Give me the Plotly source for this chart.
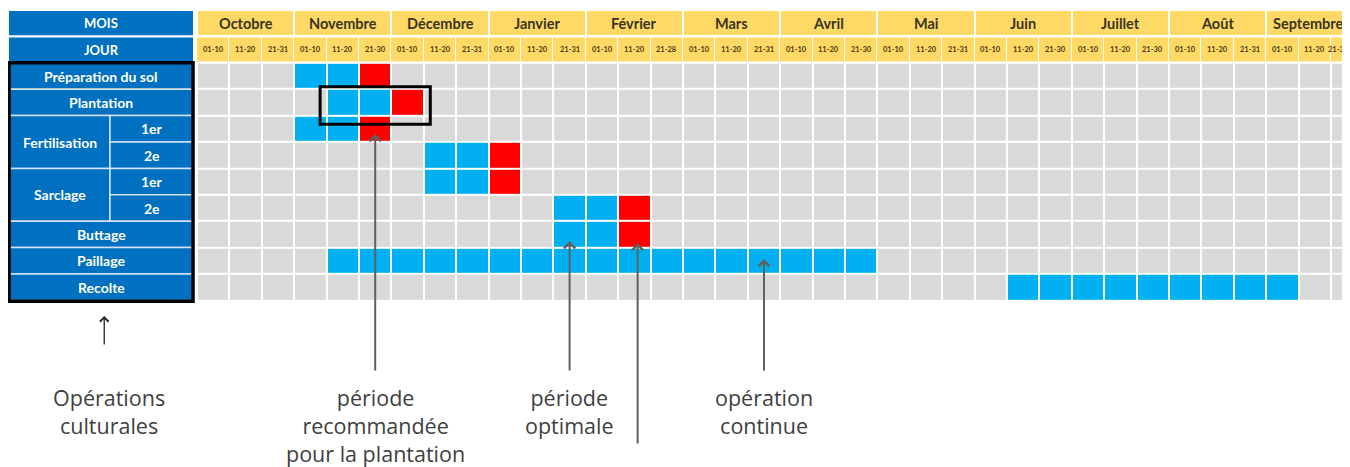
import plotly.graph_objects as go

# ---------------- data ----------------
months = ["Octobre", "Novembre", "Décembre", "Janvier", "Février", "Mars",
          "Avril", "Mai", "Juin", "Juillet", "Août", "Septembre"]
decades = ["01-10", "11-20", "21-31", "01-10", "11-20", "21-30",
           "01-10", "11-20", "21-31", "01-10", "11-20", "21-31",
           "01-10", "11-20", "21-28", "01-10", "11-20", "21-31",
           "01-10", "11-20", "21-30", "01-10", "11-20", "21-31",
           "01-10", "11-20", "21-30", "01-10", "11-20", "21-30",
           "01-10", "11-20", "21-31", "01-10", "11-20", "21-30"]

op_group = ["Préparation du sol", "Plantation", "Fertilisation", "Fertilisation",
            "Sarclage", "Sarclage", "Buttage", "Paillage", "Recolte"]
op_sub = ["", "", "1er", "2e", "1er", "2e", "", "", ""]

# blue span (decade index, inclusive) and red decade per operation
blue_start = [3, 4, 3, 7, 7, 11, 11, 4, 25]
blue_end = [4, 5, 4, 8, 8, 12, 12, 20, 33]
red_col = [5, 6, 5, 9, 9, 13, 13, None, None]

notes = ["Opérations<br>culturales",
         "période<br>recommandée<br>pour la plantation",
         "période<br>optimale",
         "opération<br>continue"]

# ---------------- layout helpers (page pixel geometry) ----------------
PAGE_W, PAGE_H = 1350, 467
BODY = 8                      # default page margin around the plot div
W, H = PAGE_W - BODY, PAGE_H - BODY
X0_PX, COL_PX = 197, 32.4
Y0_PX, ROW_PX = 10, 26.4


def px2x(p):
    return (p - X0_PX) / COL_PX


def py2y(p):
    return (p - Y0_PX) / ROW_PX - 2


ncol = len(decades)
nrow = len(op_group)

z = []
for r in range(nrow):
    row = []
    for c in range(ncol):
        v = 0
        if blue_start[r] <= c <= blue_end[r]:
            v = 1
        if red_col[r] is not None and c == red_col[r]:
            v = 2
        row.append(v)
    z.append(row)

GREY, BLUE, RED = "#D9D9D9", "#00B0F0", "#FF0000"
YEL = "#FFD966"
PANEL = "#0070C0"

fig = go.Figure()

# month header row
fig.add_trace(go.Heatmap(z=[[1] * len(months)], x0=1.5, dx=3, y0=-1.5, dy=1,
                         colorscale=[[0, YEL], [1, YEL]], showscale=False,
                         xgap=2, ygap=2, hoverinfo="skip"))
# decade header row
fig.add_trace(go.Heatmap(z=[[1] * ncol], x0=0.5, dx=1, y0=-0.5, dy=1,
                         colorscale=[[0, YEL], [1, YEL]], showscale=False,
                         xgap=1, ygap=2, hoverinfo="skip"))
# main grid
fig.add_trace(go.Heatmap(
    z=z, x0=0.5, dx=1, y0=0.5, dy=1, zmin=0, zmax=2,
    colorscale=[[0, GREY], [0.3333, GREY], [0.3333, BLUE], [0.6667, BLUE],
                [0.6667, RED], [1, RED]],
    showscale=False, xgap=2, ygap=2, hoverinfo="skip"))

shapes = []
ann = []

for m, name in enumerate(months):
    ann.append(dict(x=3 * m + 1.5, y=-1.5, text="<b>%s</b>" % name, showarrow=False,
                    xshift=-7 if m == len(months) - 1 else 0,
                    font=dict(family="Lato", size=14.5, color="#3A3420")))
for c, lab in enumerate(decades):
    ann.append(dict(x=c + 0.5, y=-0.5, text="<b>%s</b>" % lab, showarrow=False,
                    xshift=-9 if c == ncol - 1 else 0,
                    font=dict(family="Lato", size=7.5, color="#4A3A10")))

# ---------------- left panel ----------------
px_l, px_r, px_s = px2x(9), px2x(193), px2x(110)
sep = "#D6E4F5"
LFONT = dict(family="Lato", size=14, color="white")
for yy, lab in [(-2, "MOIS"), (-1, "JOUR")]:
    shapes.append(dict(type="rect", xref="x", yref="y", x0=px_l, x1=px_r,
                       y0=yy + 0.04, y1=yy + 0.96, fillcolor=PANEL, line=dict(width=0),
                       layer="above"))
    ann.append(dict(x=(px_l + px_r) / 2, y=yy + 0.5, text="<b>%s</b>" % lab,
                    showarrow=False, font=dict(family="Lato", size=13, color="white")))

r = 0
while r < nrow:
    if op_sub[r] == "":
        shapes.append(dict(type="rect", xref="x", yref="y", x0=px_l, x1=px_r,
                           y0=r, y1=r + 1, fillcolor=PANEL,
                           line=dict(width=1.5, color=sep), layer="above"))
        ann.append(dict(x=(px_l + px_r) / 2, y=r + 0.5, text="<b>%s</b>" % op_group[r],
                        showarrow=False, font=LFONT))
        r += 1
    else:
        g = op_group[r]
        r2 = r
        while r2 < nrow and op_group[r2] == g:
            r2 += 1
        shapes.append(dict(type="rect", xref="x", yref="y", x0=px_l, x1=px_s,
                           y0=r, y1=r2, fillcolor=PANEL,
                           line=dict(width=1.5, color=sep), layer="above"))
        ann.append(dict(x=(px_l + px_s) / 2, y=(r + r2) / 2, text="<b>%s</b>" % g,
                        showarrow=False, font=LFONT))
        for k in range(r, r2):
            shapes.append(dict(type="rect", xref="x", yref="y", x0=px_s, x1=px_r,
                               y0=k, y1=k + 1, fillcolor=PANEL,
                               line=dict(width=1.5, color=sep), layer="above"))
            ann.append(dict(x=(px_s + px_r) / 2, y=k + 0.5, text="<b>%s</b>" % op_sub[k],
                            showarrow=False, font=LFONT))
        r = r2

# thick black frame round the operations
shapes.append(dict(type="rect", xref="x", yref="y", x0=px_l, x1=px_r, y0=0, y1=nrow + 0.03,
                   line=dict(width=3.5, color="black"), fillcolor="rgba(0,0,0,0)",
                   layer="above"))

# black box round the plantation period
pi = op_group.index("Plantation")
shapes.append(dict(type="rect", xref="x", yref="y",
                   x0=blue_start[pi] - 0.2, x1=red_col[pi] + 1.2,
                   y0=pi - 0.09, y1=pi + 1.33,
                   line=dict(width=3, color="black"), fillcolor="rgba(0,0,0,0)",
                   layer="above"))

# ---------------- arrows + notes ----------------
acol = "#606060"
fi = op_group.index("Fertilisation")
bi = op_group.index("Buttage")
pa = op_group.index("Paillage")
TAIL = 372

arrows = [
    # (x, head_px, tail_px, colour, width)
    ((px_l + px_r) / 2 + 0.1, 316, 346, "#222222", 1.3),   # opérations culturales
    (red_col[fi] + 0.5, 134, TAIL, acol, 2),               # période recommandée
    (blue_start[bi] + 0.5, 241, TAIL, acol, 2),            # période optimale
    (red_col[bi] + 0.6, 243, 445, acol, 2),                # période rouge
    (blue_start[pa] + 13.5, 259, TAIL, acol, 2),           # opération continue
]
for ax_x, hp, tp, col, wd in arrows:
    ann.append(dict(x=ax_x, y=py2y(hp), ax=0, ay=tp - hp, showarrow=True,
                    arrowhead=4, arrowsize=1.3 if wd < 2 else 1.1, arrowwidth=wd,
                    arrowcolor=col, text=""))

note_x = [(px_l + px_r) / 2 + 0.25, red_col[fi] + 0.5,
          blue_start[bi] + 0.5, blue_start[pa] + 13.5]
for tx, t in zip(note_x, notes):
    ann.append(dict(x=tx, y=py2y(381), text=t, showarrow=False, yanchor="top",
                    xanchor="center", align="center",
                    font=dict(family="Open Sans", size=21.5, color="#404040")))

fig.update_layout(
    width=W, height=H, autosize=False,
    margin=dict(l=0, r=0, t=0, b=0),
    paper_bgcolor="white", plot_bgcolor="white",
    xaxis=dict(range=[px2x(BODY), px2x(PAGE_W)], visible=False, fixedrange=True),
    yaxis=dict(range=[py2y(PAGE_H), py2y(BODY)], visible=False, fixedrange=True),
    shapes=shapes, annotations=ann, showlegend=False,
)

fig.write_html("out.html")
